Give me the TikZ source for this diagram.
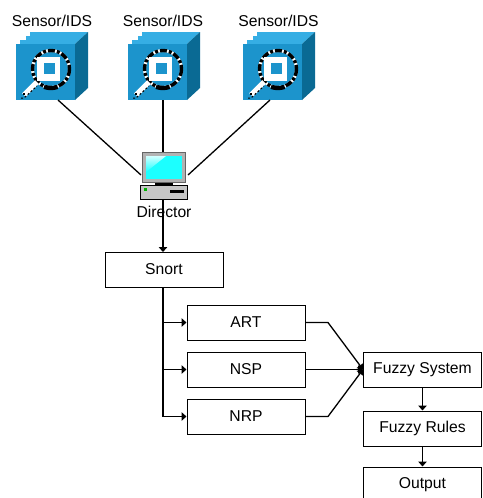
\documentclass[tikz,border=0pt]{standalone}
\usepackage{fontspec}
\setmainfont{Liberation Sans}
\usetikzlibrary{arrows.meta}
\definecolor{cubeF}{HTML}{1C94CC}
\definecolor{cubeT}{HTML}{36AEE4}
\definecolor{cubeS}{HTML}{0A6A94}
\definecolor{scr}{HTML}{1CFFFF}
\tikzset{
  x=1pt,y=-1pt,
  lbl/.style={font=\fontsize{15.7}{18}\selectfont,text=black,inner sep=0pt},
  boxn/.style={draw=black,line width=1pt,fill=white,minimum width=118pt,minimum height=35pt,inner sep=0pt,font=\fontsize{15.7}{18}\selectfont},
  conn/.style={draw=black,line width=1.3pt},
  arr/.style={conn,-{Triangle[length=5pt,width=8.5pt]}},
  hitbox/.style={inner sep=0pt,minimum width=72pt,minimum height=68pt}
}
\newcommand{\sensoricon}[1]{%
  \begin{scope}[shift={(#1,0)}]
    \fill[cubeT] (16,44) -- (20,44) -- (20,40) -- (26,40) -- (26,36) -- (30,36) -- (30,32) -- (88,32) -- (75,44) -- cycle;
    \fill[cubeS] (75,44) -- (88,32) -- (88,88) -- (75,100) -- cycle;
    \fill[cubeF] (16,44) rectangle (75,100);
    \draw[white,line width=3pt] (51,69) circle (18.5);
    \draw[black,line width=3.4pt,dash pattern=on 7pt off 2pt on 3pt off 2pt] (51,69) circle (18.5);
    \draw[black,line width=4pt] (44,87) arc[start angle=110,end angle=70,radius=20];
    \fill[white] (37,57) rectangle (60,81);
    \fill[cubeF] (44,63) rectangle (55,74);
    \draw[white,line width=5pt] (37,82) -- (24,95);
    \draw[black,line width=1pt,dash pattern=on 2pt off 2pt] (21,98) -- (24,98) -- (37,86);
    \fill[black] (23,93) rectangle (25,95);
  \end{scope}}
\begin{document}
\begin{tikzpicture}
\useasboundingbox (0,0) rectangle (482,498);
% sensors
\node[hitbox] (s1) at (52,66) {};
\node[hitbox] (s2) at (164,66) {};
\node[hitbox] (s3) at (279,66) {};
\sensoricon{0}\sensoricon{112}\sensoricon{227}
\node[lbl] (l1) at (52,21) {Sensor/IDS};
\node[lbl] (l2) at (163,21) {Sensor/IDS};
\node[lbl] (l3) at (278.5,21) {Sensor/IDS};
\coordinate (s1o) at (58,100);
\coordinate (s2o) at (163,100);
\coordinate (s3o) at (270,100);
% director
\coordinate (dl) at (141,175);
\coordinate (dr) at (188,175);
\coordinate (dt) at (163,152);
\coordinate (db) at (163,199);
\draw[conn] (s1o) -- (dl);
\draw[conn] (s2o) -- (dt);
\draw[conn] (s3o) -- (dr);
\fill[black] (155,181) rectangle (173,186);
\fill[gray!60,draw=gray!80!black,line width=.6pt] (142,152) rectangle (185,182);
\fill[scr] (146,156) rectangle (182,179);
\shade[shading angle=135,top color=white,bottom color=scr,opacity=.8] (146,156) -- (166,156) -- (146,172) -- cycle;
\fill[gray!45,draw=black,line width=1pt] (140.5,185.5) rectangle (187.5,199);
\fill[green!70!black] (144,188) rectangle (147,191);
\fill[black] (170,190) rectangle (184,192.5);
% boxes
\node[boxn] (snort) at (164,269.5) {Snort};
\node[boxn] (art) at (246,322.5) {ART};
\node[boxn] (nsp) at (246,369.5) {NSP};
\node[boxn] (nrp) at (246,416.5) {NRP};
\node[boxn] (fs) at (422.5,369.5) {Fuzzy System};
\node[boxn] (fr) at (422.5,428.5) {Fuzzy Rules};
\node[boxn] (out) at (422.5,484.5) {Output};
\draw[arr] (db) -- (163,252);
\node[lbl] (dir) at (164,212) {Director};
\coordinate (t1) at (163,287);
\draw[conn] (t1) -- (163,416.5);
\draw[arr] (163,322.5) -- (art.west);
\draw[arr] (163,369.5) -- (nsp.west);
\draw[arr] (163,416.5) -- (nrp.west);
\draw[arr] (art.east) -- (328,322.5) -- (fs.west);
\draw[arr] (nsp.east) -- (fs.west);
\draw[arr] (nrp.east) -- (328,416.5) -- (fs.west);
\draw[arr] (fs.south) -- (fr.north);
\draw[arr] (fr.south) -- (out.north);
\end{tikzpicture}
\end{document}
